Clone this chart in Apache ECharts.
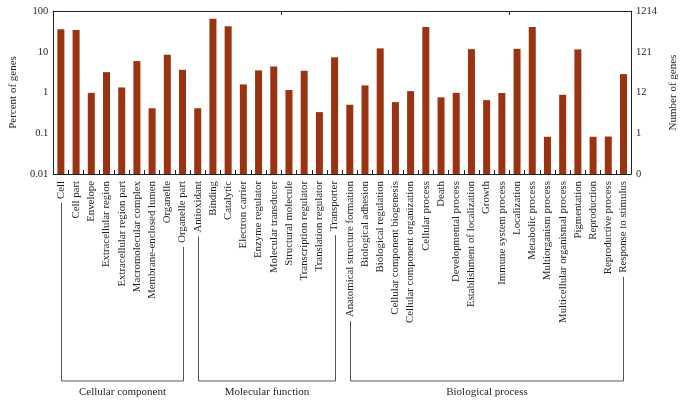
<!DOCTYPE html>
<html>
<head>
<meta charset="utf-8">
<script src="https://cdn.jsdelivr.net/npm/echarts@6/dist/echarts.min.js"></script>
<style>html,body{margin:0;padding:0;background:#fff}#c{width:687px;height:405px}</style>
</head>
<body>
<div id="c"></div>
<script>
const categories = [
  'Cell','Cell part','Envelope','Extracellular region','Extracellular region part',
  'Macromolecular complex','Membrane-enclosed lumen','Organelle','Organelle part',
  'Antioxidant','Binding','Catalytic','Electron carrier','Enzyme regulator',
  'Molecular transducer','Structural molecule','Transcription regulator','Translation regulator','Transporter',
  'Anatomical structure formation','Biological adhesion','Biological regulation',
  'Cellular component biogenesis','Cellular component organization','Cellular process','Death',
  'Developmental process','Establishment of localization','Growth','Immune system process',
  'Localization','Metabolic process','Multiorganism process','Multicellular organismal process',
  'Pigmentation','Reproduction','Reproductive process','Response to stimulus'
];
const percentOfGenes = [
  35.5, 34, 0.98, 3.16, 1.33, 5.9, 0.41, 8.45, 3.6,
  0.41, 64.6, 42, 1.58, 3.48, 4.36, 1.15, 3.41, 0.33, 7.3,
  0.50, 1.49, 12.1, 0.58, 1.08, 40.4, 0.76, 0.98, 11.6, 0.65, 0.97,
  11.8, 40.4, 0.082, 0.88, 11.4, 0.082, 0.083, 2.83
];
const leftTickLabels = ['0.01','0.1','1','10','100'];
const rightTickLabels = ['0','1','12','121','1214'];
const groupNames = ['Cellular component','Molecular function','Biological process'];
const groupFirst = ['Cell','Antioxidant','Anatomical structure formation'];
const groupLast = ['Organelle part','Transporter','Response to stimulus'];

const axisMin = 0.01, axisMax = 100;
const FONT = '"Liberation Serif", "Times New Roman", serif';
const TXT = '#231f20';
const LABEL_SIZE = 10.8, LABEL_MARGIN = 7;

const chart = echarts.init(document.getElementById('c'), null, {renderer: 'canvas'});
const baseVals = percentOfGenes.map(() => axisMin);
const restVals = percentOfGenes.map(v => v - axisMin);

function decadeIndex(v) { return Math.round(Math.log10(v)) + 2; }

const option = {
  animation: false,
  grid: {left: 49, right: 48, top: 11, bottom: 231},
  xAxis: [{
    type: 'category', data: categories, position: 'bottom',
    axisLine: {show: true, lineStyle: {color: TXT, width: 1}},
    axisTick: {show: true, inside: true, length: 4, alignWithLabel: false, lineStyle: {color: TXT}},
    axisLabel: {interval: 0, rotate: 90, margin: LABEL_MARGIN, fontFamily: FONT, fontSize: LABEL_SIZE, color: TXT}
  }, {
    type: 'category', data: categories, position: 'top',
    axisLine: {show: true, lineStyle: {color: TXT, width: 1}},
    axisTick: {show: true, inside: true, length: 4, lineStyle: {color: TXT}},
    axisLabel: {show: false}
  }],
  yAxis: [{
    type: 'log', logBase: 10, min: axisMin, max: axisMax, interval: 1, position: 'left',
    name: 'Percent of genes', nameLocation: 'middle', nameGap: 30,
    nameTextStyle: {fontFamily: FONT, fontSize: 11, color: TXT},
    axisLine: {show: true, lineStyle: {color: TXT}},
    axisTick: {show: false}, splitLine: {show: false},
    axisLabel: {fontFamily: FONT, fontSize: 10.5, color: TXT, margin: 5,
      formatter: v => leftTickLabels[decadeIndex(v)]}
  }, {
    type: 'log', logBase: 10, min: axisMin, max: axisMax, interval: 1, position: 'right',
    name: 'Number of genes', nameLocation: 'middle', nameGap: 31,
    nameTextStyle: {fontFamily: FONT, fontSize: 11, color: TXT},
    axisLine: {show: true, lineStyle: {color: TXT}},
    axisTick: {show: false}, splitLine: {show: false},
    axisLabel: {fontFamily: FONT, fontSize: 10.5, color: TXT, margin: 5,
      formatter: v => rightTickLabels[decadeIndex(v)]}
  }],
  series: [{
    type: 'bar', stack: 's', data: baseVals, barWidth: 7, silent: true,
    itemStyle: {color: 'rgba(0,0,0,0)'}
  }, {
    type: 'bar', stack: 's', data: restVals, barWidth: 7,
    itemStyle: {color: '#993311'}
  }]
};
chart.setOption(option);

// brackets under the category labels
const ctx = document.createElement('canvas').getContext('2d');
ctx.font = LABEL_SIZE + 'px ' + FONT;
const axisY = chart.convertToPixel({yAxisIndex: 0}, axisMin);
const bracketY = 381, groupLabelY = 392;
const graphics = [];
groupNames.forEach((name, i) => {
  const x1 = Math.round(chart.convertToPixel({xAxisIndex: 0}, groupFirst[i])) + 0.5;
  const x2 = Math.round(chart.convertToPixel({xAxisIndex: 0}, groupLast[i])) + 0.5;
  const y1 = axisY + LABEL_MARGIN + ctx.measureText(groupFirst[i]).width + 4;
  const y2 = axisY + LABEL_MARGIN + ctx.measureText(groupLast[i]).width + 4;
  graphics.push({
    type: 'polyline', silent: true,
    shape: {points: [[x1, y1], [x1, bracketY], [x2, bracketY], [x2, y2]]},
    style: {stroke: '#555', lineWidth: 1, fill: null}
  });
  graphics.push({
    type: 'text', silent: true, x: (x1 + x2) / 2, y: groupLabelY,
    style: {text: name, font: '11px ' + FONT, fill: TXT, align: 'center', verticalAlign: 'middle'}
  });
});
chart.setOption({graphic: graphics});
</script>
</body>
</html>
